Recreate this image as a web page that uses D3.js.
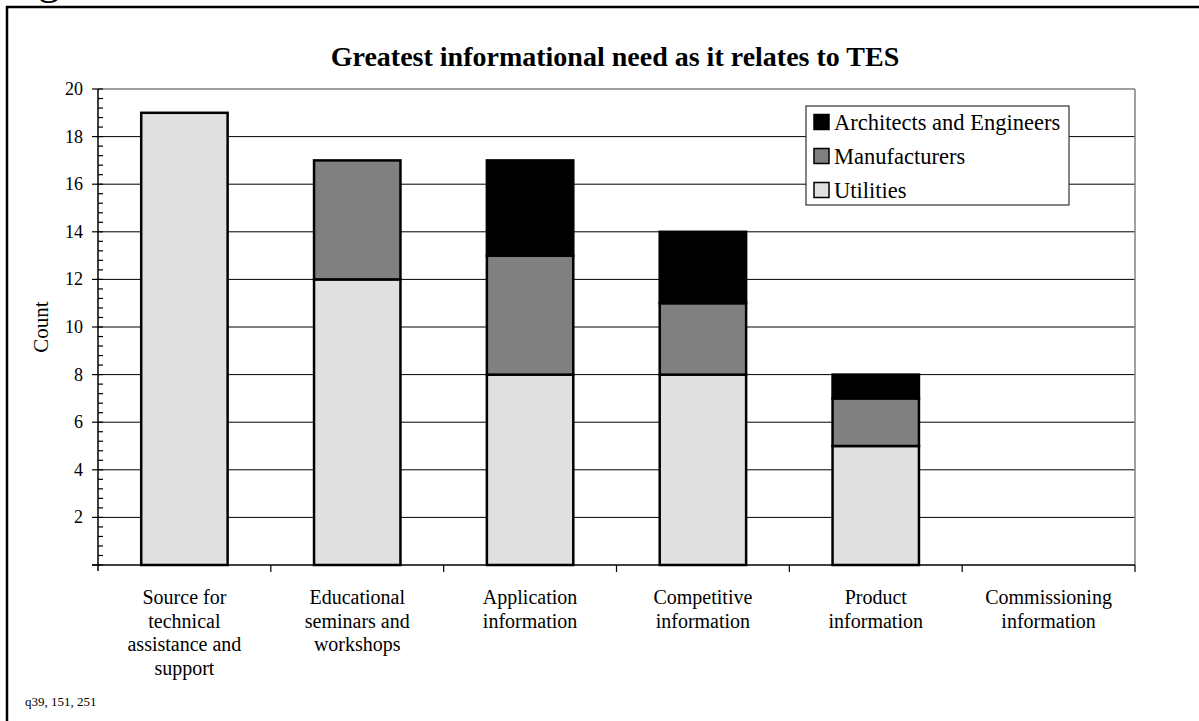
<!DOCTYPE html>
<html>
<head>
<meta charset="utf-8">
<script src="https://cdn.jsdelivr.net/npm/d3@7/dist/d3.min.js"></script>
<style>
  html, body { margin: 0; padding: 0; background: #fff; }
  svg { display: block; font-family: "Liberation Serif", "Times New Roman", serif; }
</style>
</head>
<body>
<svg id="chart" width="1199" height="721"></svg>
<script>
// Survey responses by category, stacked by respondent group
const categories = [
  "Source for technical assistance and support",
  "Educational seminars and workshops",
  "Application information",
  "Competitive information",
  "Product information",
  "Commissioning information"
];
const categoryLines = [
  ["Source for", "technical", "assistance and", "support"],
  ["Educational", "seminars and", "workshops"],
  ["Application", "information"],
  ["Competitive", "information"],
  ["Product", "information"],
  ["Commissioning", "information"]
];
const seriesNames = ["Utilities", "Manufacturers", "Architects and Engineers"];
const utilities     = [19, 12, 8, 8, 5, 0];
const manufacturers = [0, 5, 5, 3, 2, 0];
const architects    = [0, 0, 4, 3, 1, 0];
const yTicks = [2, 4, 6, 8, 10, 12, 14, 16, 18, 20];
const colors = { "Utilities": "#e0e0e0", "Manufacturers": "#808080", "Architects and Engineers": "#000000" };

const rows = categories.map((c, i) => ({
  category: c,
  "Utilities": utilities[i],
  "Manufacturers": manufacturers[i],
  "Architects and Engineers": architects[i]
}));

const svg = d3.select("#chart");

// outer frame (extends past the window on the right and bottom)
svg.append("rect")
  .attr("x", 7).attr("y", 7).attr("width", 1300).attr("height", 800)
  .attr("fill", "none").attr("stroke", "#000").attr("stroke-width", 2.5);

// heading fragment above the frame
svg.append("text").attr("x", 38).attr("y", -6)
  .attr("font-size", 44).text("g");

const plotL = 98, plotR = 1135, plotT = 89, plotB = 565;
const x = d3.scaleBand().domain(categories).range([plotL, plotR]).padding(0);
const y = d3.scaleLinear().domain([0, 20]).range([plotB, plotT]);

// gridlines
svg.append("g").selectAll("line").data(yTicks.filter(d => d < 20)).join("line")
  .attr("x1", plotL).attr("x2", plotR)
  .attr("y1", d => y(d)).attr("y2", d => y(d))
  .attr("stroke", "#000").attr("stroke-width", 1);

// plot border top/right
svg.append("line").attr("x1", plotL).attr("x2", plotR).attr("y1", y(20)).attr("y2", y(20))
  .attr("stroke", "#808080").attr("stroke-width", 1.5);
svg.append("line").attr("x1", plotR).attr("x2", plotR).attr("y1", y(20)).attr("y2", plotB)
  .attr("stroke", "#808080").attr("stroke-width", 1.5);

// stacked bars
const stack = d3.stack().keys(seriesNames);
const series = stack(rows);
const barW = x.bandwidth() * 0.5;
svg.append("g").selectAll("g").data(series).join("g")
  .attr("fill", d => colors[d.key])
  .selectAll("rect").data(d => d.filter(s => s[1] > s[0])).join("rect")
  .attr("x", d => x(d.data.category) + (x.bandwidth() - barW) / 2)
  .attr("width", barW)
  .attr("y", d => y(d[1]))
  .attr("height", d => y(d[0]) - y(d[1]))
  .attr("stroke", "#000").attr("stroke-width", 2.5);

// y axis: major ticks outside, minor ticks inside
const yAxisG = svg.append("g");
yAxisG.append("line").attr("x1", plotL).attr("x2", plotL).attr("y1", plotT).attr("y2", plotB + 6)
  .attr("stroke", "#000").attr("stroke-width", 1.5);
const minor = d3.range(0, 20.001, 0.4);
yAxisG.selectAll("line.minor").data(minor).join("line").attr("class", "minor")
  .attr("x1", plotL).attr("x2", plotL + 5)
  .attr("y1", d => y(d)).attr("y2", d => y(d))
  .attr("stroke", "#000").attr("stroke-width", 1.2);
yAxisG.selectAll("line.major").data([0].concat(yTicks)).join("line").attr("class", "major")
  .attr("x1", plotL - 6).attr("x2", plotL)
  .attr("y1", d => y(d)).attr("y2", d => y(d))
  .attr("stroke", "#000").attr("stroke-width", 1.2);
yAxisG.selectAll("text").data(yTicks).join("text")
  .attr("x", plotL - 15).attr("y", d => y(d) + 6)
  .attr("text-anchor", "end").attr("font-size", 18).text(d => d);

// x axis
const xAxisG = svg.append("g");
xAxisG.append("line").attr("x1", plotL - 6).attr("x2", plotR).attr("y1", plotB).attr("y2", plotB)
  .attr("stroke", "#000").attr("stroke-width", 1.5);
xAxisG.selectAll("line.tick").data(categories).join("line").attr("class", "tick")
  .attr("x1", d => x(d) + x.bandwidth()).attr("x2", d => x(d) + x.bandwidth())
  .attr("y1", plotB).attr("y2", plotB + 7)
  .attr("stroke", "#000").attr("stroke-width", 1.2);
xAxisG.selectAll("text").data(categories).join("text")
  .attr("text-anchor", "middle").attr("font-size", 20)
  .each(function(d, i) {
    const t = d3.select(this);
    categoryLines[i].forEach((ln, j) => {
      t.append("tspan").attr("x", x(d) + x.bandwidth() / 2)
        .attr("y", 604 + j * 23.5).text(ln);
    });
  });

// axis title
svg.append("text")
  .attr("transform", "translate(48," + ((plotT + plotB) / 2) + ") rotate(-90)")
  .attr("text-anchor", "middle").attr("font-size", 21).text("Count");

// chart title
svg.append("text").attr("x", 615).attr("y", 66)
  .attr("text-anchor", "middle").attr("font-size", 28).attr("font-weight", "bold")
  .text("Greatest informational need as it relates to TES");

// legend
const legendItems = seriesNames.slice().reverse();
const lg = svg.append("g");
lg.append("rect").attr("x", 806).attr("y", 106).attr("width", 263).attr("height", 99)
  .attr("fill", "#fff").attr("stroke", "#333").attr("stroke-width", 1.2);
const li = lg.selectAll("g.item").data(legendItems).join("g").attr("class", "item")
  .attr("transform", (d, i) => "translate(0," + (122 + i * 34) + ")");
li.append("rect").attr("x", 814).attr("y", -7.5).attr("width", 15).attr("height", 15)
  .attr("fill", d => colors[d]).attr("stroke", "#000").attr("stroke-width", 1.5);
li.append("text").attr("x", 834).attr("y", 7.5).attr("font-size", 22.5).text(d => d);

// footnote
svg.append("text").attr("x", 25).attr("y", 706).attr("font-size", 13).text("q39, 151, 251");
</script>
</body>
</html>
